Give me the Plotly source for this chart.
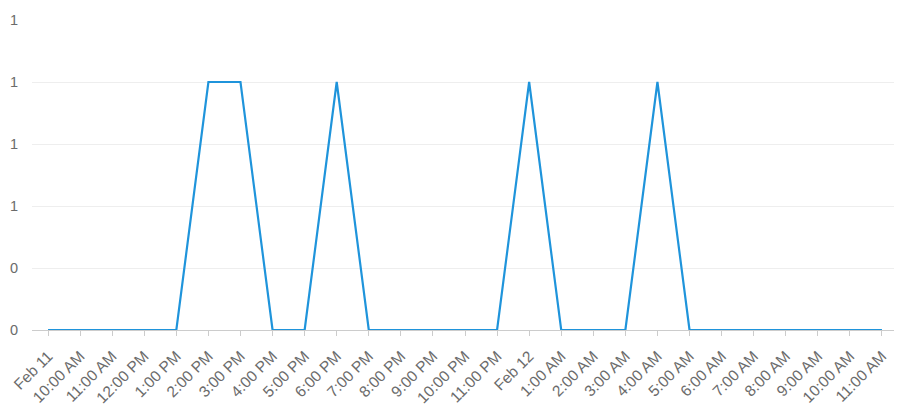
import plotly.graph_objects as go
import pandas as pd

times = pd.date_range("2024-02-11 09:00", "2024-02-12 11:00", freq="h")
tick_labels = ["Feb 11", "10:00 AM", "11:00 AM", "12:00 PM", "1:00 PM", "2:00 PM", "3:00 PM",
               "4:00 PM", "5:00 PM", "6:00 PM", "7:00 PM", "8:00 PM", "9:00 PM", "10:00 PM",
               "11:00 PM", "Feb 12", "1:00 AM", "2:00 AM", "3:00 AM", "4:00 AM", "5:00 AM",
               "6:00 AM", "7:00 AM", "8:00 AM", "9:00 AM", "10:00 AM", "11:00 AM"]
values = [0, 0, 0, 0, 0, 1, 1, 0, 0, 1, 0, 0, 0, 0, 0, 1, 0, 0, 0, 1, 0, 0, 0, 0, 0, 0, 0]
y_tickvals = [0, 0.25, 0.5, 0.75, 1.0, 1.25]
y_ticktext = ["0", "0", "1", "1", "1", "1"]

FONT = "Arial"

fig = go.Figure(go.Scatter(x=times, y=values, mode="lines",
                           line=dict(color="#1f94db", width=2.2), hoverinfo="x+y"))

half = pd.Timedelta(minutes=30)
# the page body adds an 8px offset, so the figure is sized/margined to compensate
fig.update_layout(
    width=894, height=409,
    margin=dict(l=24, r=4, t=12, b=87),
    paper_bgcolor="white", plot_bgcolor="white",
    showlegend=False,
    font=dict(family=FONT, size=14, color="#6b6b6b"),
    xaxis=dict(
        type="date", automargin=False,
        range=[times[0] - half, times[-1] + half],
        tickvals=list(times), ticktext=tick_labels,
        tickangle=-45, showgrid=False, zeroline=False,
        showline=True, linecolor="#cccccc", linewidth=1,
        ticks="outside", ticklen=5, tickcolor="#cccccc",
        ticklabelstandoff=5,
        tickfont=dict(family=FONT, size=15.5, color="#6b6b6b"),
    ),
    yaxis=dict(
        range=[0, 1.25], automargin=False,
        tickvals=y_tickvals, ticktext=y_ticktext,
        showgrid=True, gridcolor="#eeeeee", gridwidth=1,
        zeroline=False, showline=False,
        ticks="outside", ticklen=10, tickcolor="rgba(0,0,0,0)",
        tickfont=dict(family=FONT, size=14.5, color="#6b6b6b"),
    ),
)
fig.write_html("out.html")
